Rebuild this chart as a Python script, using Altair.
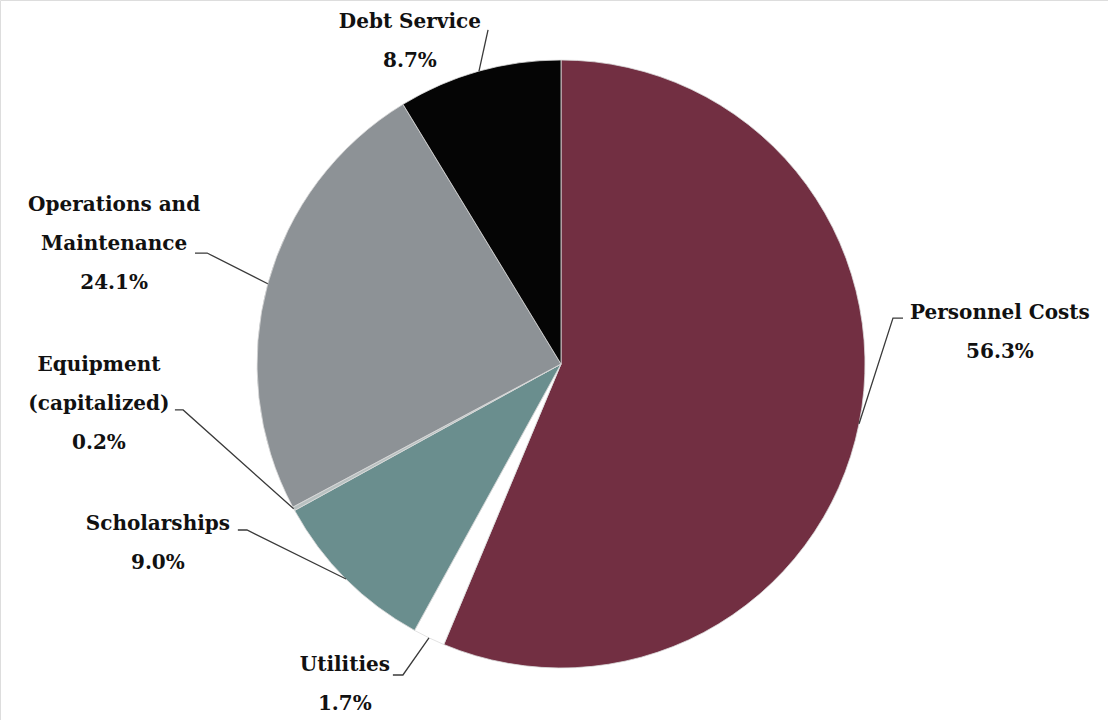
import math
import altair as alt
import pandas as pd

# ---- data ----
categories = ["Personnel Costs", "Utilities", "Scholarships",
              "Equipment (capitalized)", "Operations and Maintenance", "Debt Service"]
values = [56.3, 1.7, 9.0, 0.2, 24.1, 8.7]
label_lines = [["Personnel Costs"], ["Utilities"], ["Scholarships"],
               ["Equipment", "(capitalized)"], ["Operations and", "Maintenance"], ["Debt Service"]]
colors = ["#722F42", "#FFFFFF", "#6A8E8E", "#B9C1C1", "#8D9296", "#050505"]

# ---- layout (pie radius units, relative to pie centre, y up) ----
label_anchor = [(1.444, 0.168), (-0.711, -0.990), (-1.326, -0.526),
                (-1.520, -0.003), (-1.470, 0.523), (-0.497, 1.125)]
elbow = [(1.092, 0.151), (-0.520, -1.023), (-1.033, -0.546),
         (-1.243, -0.151), (-1.164, 0.365), (-0.240, 1.099)]
elbow_end = [(1.125, 0.151), (-0.553, -1.023), (-1.063, -0.546),
             (-1.270, -0.151), (-1.204, 0.365), (-0.240, 1.099)]
LINE_STEP = 0.128
R_PX = 304
W, H = 1108, 720
XDOM = [-561 / R_PX, (W - 561) / R_PX]
YDOM = [-(H - 364) / R_PX, 364 / R_PX]

pie_df = pd.DataFrame({"category": categories, "value": values,
                       "order": list(range(len(values)))})

total = sum(values)
text_rows, line_rows = [], []
cum = 0.0
for i, (cat, v) in enumerate(zip(categories, values)):
    a = 2 * math.pi * (cum + v / 2) / total
    cum += v
    ex, ey = math.sin(a), math.cos(a)
    pts = [(ex, ey), elbow[i], elbow_end[i]]
    for k, (px, py) in enumerate(pts):
        line_rows.append({"category": cat, "k": k, "x": px, "y": py})
    ax, ay = label_anchor[i]
    lines = label_lines[i] + [f"{v:.1f}%"]
    for j, t in enumerate(lines):
        text_rows.append({"category": cat, "text": t, "x": ax, "y": ay - j * LINE_STEP})

text_df = pd.DataFrame(text_rows)
line_df = pd.DataFrame(line_rows)

xs = alt.Scale(domain=XDOM, nice=False, zero=False)
ys = alt.Scale(domain=YDOM, nice=False, zero=False)

shadow = alt.Chart(pd.DataFrame({"v": [1]})).mark_arc(
    outerRadius=R_PX + 3, color="#9a9a9a", opacity=0.35
).encode(
    x=alt.X("dx:Q", scale=xs, axis=None),
    y=alt.Y("dy:Q", scale=ys, axis=None),
    theta=alt.Theta("v:Q"),
).transform_calculate(dx="0.008", dy="-0.012")

pie = alt.Chart(pie_df).mark_arc(outerRadius=R_PX, stroke="#dcdcdc", strokeWidth=0.8).encode(
    x=alt.X("cx:Q", scale=xs, axis=None),
    y=alt.Y("cy:Q", scale=ys, axis=None),
    theta=alt.Theta("value:Q", stack=True),
    order=alt.Order("order:Q"),
    color=alt.Color("category:N", scale=alt.Scale(domain=categories, range=colors), legend=None),
).transform_calculate(cx="0", cy="0")

leaders = alt.Chart(line_df).mark_line(color="#3a3a3a", strokeWidth=1.3).encode(
    x=alt.X("x:Q", scale=xs, axis=None),
    y=alt.Y("y:Q", scale=ys, axis=None),
    detail="category:N",
    order="k:Q",
)

labels = alt.Chart(text_df).mark_text(
    font="DejaVu Serif", fontWeight="bold", fontSize=20, color="#111111",
    align="center", baseline="middle"
).encode(
    x=alt.X("x:Q", scale=xs, axis=None),
    y=alt.Y("y:Q", scale=ys, axis=None),
    text="text:N",
)

chart = alt.layer(shadow, pie, leaders, labels).properties(
    width=W, height=H, padding=0, autosize=alt.AutoSizeParams(type="none")
).configure_view(stroke=None).configure(background="white")

chart.save("out.html", embed_options={"renderer": "svg", "actions": False})
